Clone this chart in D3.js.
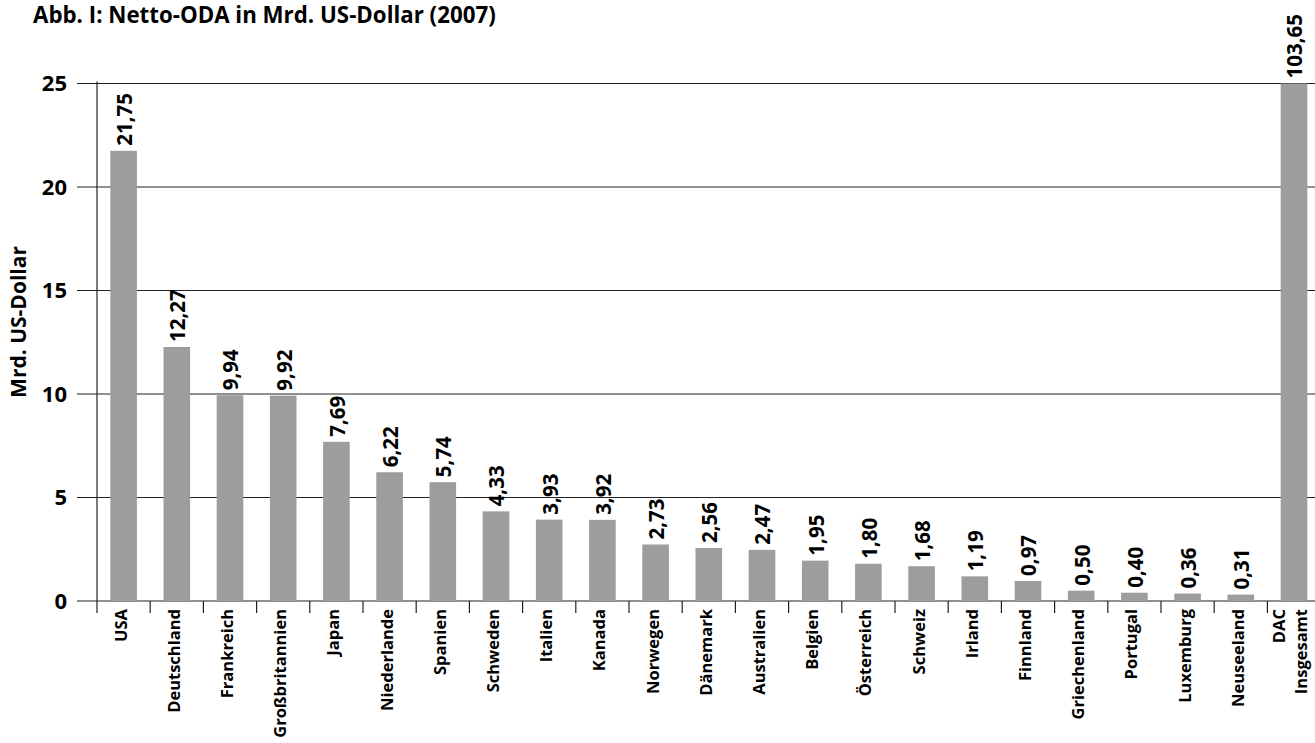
<!DOCTYPE html>
<html>
<head>
<meta charset="utf-8">
<script src="https://cdn.jsdelivr.net/npm/d3@7"></script>
<style>
  html, body { margin: 0; padding: 0; background: #fff; }
  svg { display: block; }
  text { font-family: "Open Sans", "Noto Sans", sans-serif; font-weight: 700; fill: #000; }
</style>
</head>
<body>
<svg id="chart" width="1315" height="743"></svg>
<script>
// Net ODA 2007 by DAC donor, billion US dollars
const countries = ["USA", "Deutschland", "Frankreich", "Großbritannien", "Japan", "Niederlande",
  "Spanien", "Schweden", "Italien", "Kanada", "Norwegen", "Dänemark", "Australien", "Belgien",
  "Österreich", "Schweiz", "Irland", "Finnland", "Griechenland", "Portugal", "Luxemburg",
  "Neuseeland", "DAC\nInsgesamt"];
const odaValues = [21.75, 12.27, 9.94, 9.92, 7.69, 6.22, 5.74, 4.33, 3.93, 3.92, 2.73, 2.56,
  2.47, 1.95, 1.80, 1.68, 1.19, 0.97, 0.50, 0.40, 0.36, 0.31, 103.65];
const yTicks = [0, 5, 10, 15, 20, 25];

const svg = d3.select("#chart");
const W = 1315;
const left = 97, y0 = 601, yTop = 83.5;
const step = 53.2;

const x = d3.scaleBand()
  .domain(countries)
  .range([left, left + step * countries.length])
  .paddingInner(0.5).paddingOuter(0.25);

// values beyond the axis maximum are capped at the top of the plot
const y = d3.scaleLinear().domain([0, 25]).range([y0, yTop]).clamp(true);

const fmt = v => d3.format(".2f")(v).replace(".", ",");

// title
svg.append("text")
  .attr("x", 33).attr("y", 23)
  .style("font-size", "22.3px")
  .text("Abb. I: Netto-ODA in Mrd. US-Dollar (2007)");

// horizontal grid
svg.append("g").selectAll("line").data(yTicks).join("line")
  .attr("x1", 77).attr("x2", W)
  .attr("y1", d => y(d)).attr("y2", d => y(d))
  .attr("stroke", "#222").attr("stroke-width", 1.2);

// y tick labels
svg.append("g").selectAll("text").data(yTicks).join("text")
  .attr("x", 67).attr("y", d => y(d))
  .attr("dy", "0.36em")
  .attr("text-anchor", "end")
  .style("font-size", "22px")
  .text(d => d);

// y axis title
svg.append("text")
  .attr("transform", `translate(26,322) rotate(-90)`)
  .attr("text-anchor", "middle")
  .style("font-size", "21px")
  .text("Mrd. US-Dollar");

// bars
svg.append("g").selectAll("rect").data(odaValues).join("rect")
  .attr("x", (d, i) => x(countries[i]))
  .attr("width", x.bandwidth())
  .attr("y", d => y(d))
  .attr("height", d => y0 - y(d))
  .attr("fill", "#9d9d9f");

// y axis line and baseline ticks
svg.append("line")
  .attr("x1", left).attr("x2", left).attr("y1", 81.5).attr("y2", 613)
  .attr("stroke", "#222").attr("stroke-width", 1.2);
const bounds = countries.map((c, i) => left + step * i).slice(1);
svg.append("g").selectAll("line").data(bounds).join("line")
  .attr("x1", d => d).attr("x2", d => d)
  .attr("y1", y0).attr("y2", 613)
  .attr("stroke", "#222").attr("stroke-width", 1.2);

// value labels
svg.append("g").selectAll("text").data(odaValues).join("text")
  .attr("transform", (d, i) =>
    `translate(${x(countries[i]) + x.bandwidth() / 2 + 1},${y(d) - 5}) rotate(-90)`)
  .attr("dy", "0.36em")
  .style("font-size", "20.5px")
  .text(d => fmt(d));

// category labels (rotated, may wrap to two lines)
const cat = svg.append("g").selectAll("text").data(countries).join("text")
  .attr("transform", c => `translate(${x(c) + x.bandwidth() / 2 - 3},609) rotate(-90)`)
  .attr("text-anchor", "end")
  .style("font-size", "16.5px");
cat.each(function(c) {
  const lines = c.split("\n");
  const t = d3.select(this);
  lines.forEach((ln, k) => {
    t.append("tspan")
      .attr("x", 0)
      .attr("dy", lines.length === 1 ? "0.36em" : (k === 0 ? "-0.35em" : "1.3em"))
      .text(ln);
  });
});
</script>
</body>
</html>
